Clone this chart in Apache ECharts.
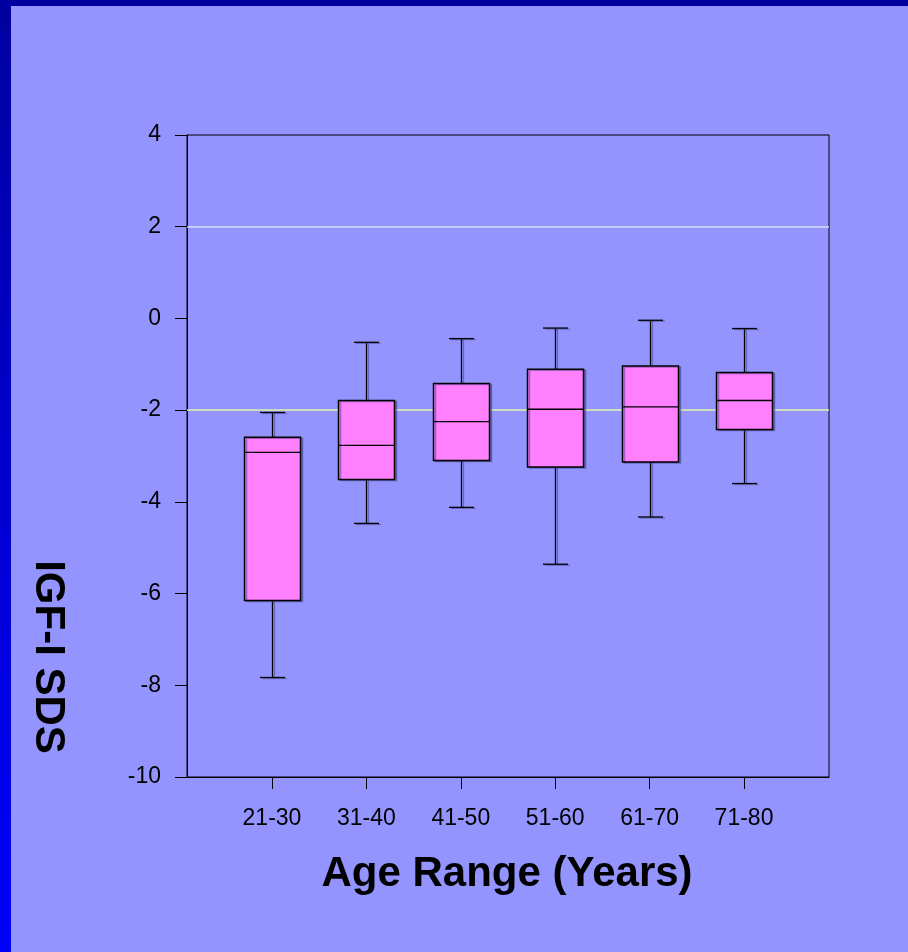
<!DOCTYPE html>
<html>
<head>
<meta charset="utf-8">
<script src="https://cdn.jsdelivr.net/npm/echarts@6/dist/echarts.min.js"></script>
<style>html,body{margin:0;padding:0;background:#9494FF;}#c{width:908px;height:952px;}</style>
</head>
<body>
<div id="c"></div>
<script>
const categories = ['21-30', '31-40', '41-50', '51-60', '61-70', '71-80'];
const whiskerLow = [-7.83, -4.47, -4.12, -5.36, -4.33, -3.60];
const q1 = [-6.15, -3.51, -3.10, -3.24, -3.13, -2.42];
const median = [-2.92, -2.77, -2.25, -1.98, -1.93, -1.79];
const q3 = [-2.59, -1.79, -1.42, -1.11, -1.04, -1.18];
const whiskerHigh = [-2.05, -0.52, -0.44, -0.21, -0.04, -0.22];
const yTicks = [-10, -8, -6, -4, -2, 0, 2, 4];
const refLines = [2, -2];

const FONT = "'Liberation Sans', Arial, sans-serif";
const boxData = categories.map((c, i) => [i + 1, whiskerLow[i], q1[i], median[i], q3[i], whiskerHigh[i]]);

const chart = echarts.init(document.getElementById('c'), null, {renderer: 'canvas'});
chart.setOption({
  backgroundColor: '#9494FF',
  animation: false,
  grid: {left: 187, right: 79, top: 135, bottom: 175, show: true, borderColor: '#000', borderWidth: 1, backgroundColor: 'transparent'},
  xAxis: {
    type: 'value', min: 0.1, max: 6.9,
    splitLine: {show: false},
    axisLine: {show: true, onZero: false, lineStyle: {color: '#000', width: 1}},
    axisTick: {show: true, inside: false, length: 12, lineStyle: {color: '#000'}, customValues: [1, 2, 3, 4, 5, 6]},
    axisLabel: {show: true, color: '#000', fontSize: 23, fontFamily: FONT, margin: 30,
      customValues: [1, 2, 3, 4, 5, 6],
      formatter: v => categories[Math.round(v) - 1] || ''}
  },
  yAxis: {
    type: 'value', min: yTicks[0], max: yTicks[yTicks.length - 1], interval: 2,
    splitLine: {show: false},
    axisLine: {show: true, onZero: false, lineStyle: {color: '#000', width: 1}},
    axisTick: {show: true, inside: false, length: 12, lineStyle: {color: '#000'}},
    axisLabel: {color: '#000', fontSize: 23, fontFamily: FONT, margin: 26, padding: [4, 0, 0, 0]}
  },
  graphic: [
    {type: 'rect', left: 0, top: 0, shape: {width: 908, height: 6}, style: {fill: '#0000A0'}, z: 100},
    {type: 'rect', left: 0, top: 0, shape: {width: 11, height: 952},
      style: {fill: new echarts.graphic.LinearGradient(0, 0, 0, 1, [{offset: 0, color: '#0000A0'}, {offset: 1, color: '#0000FF'}])}, z: 100},
    {type: 'text', x: 48, y: 657, rotation: -Math.PI / 2,
      style: {text: 'IGF-I SDS', fill: '#000', font: 'bold 42px ' + FONT, textAlign: 'center', textVerticalAlign: 'middle'}},
    {type: 'text', x: 507, y: 874,
      style: {text: 'Age Range (Years)', fill: '#000', font: 'bold 42px ' + FONT, textAlign: 'center', textVerticalAlign: 'middle'}}
  ],
  series: [{
    type: 'custom',
    z: 10,
    data: boxData,
    renderItem: function (params, api) {
      const x = api.value(0);
      const pMin = api.coord([x, api.value(1)]);
      const pQ1 = api.coord([x, api.value(2)]);
      const pMed = api.coord([x, api.value(3)]);
      const pQ3 = api.coord([x, api.value(4)]);
      const pMax = api.coord([x, api.value(5)]);
      const cx = Math.round(pMed[0]) + 0.5;
      const bw = 56, cw = 25;
      const shadow = {shadowColor: 'rgba(50,50,120,0.45)', shadowOffsetX: 2, shadowOffsetY: 1, shadowBlur: 0};
      const ls = Object.assign({stroke: '#000', lineWidth: 1.3}, shadow);
      return {
        type: 'group',
        children: [
          {type: 'line', shape: {x1: cx, y1: pMax[1], x2: cx, y2: pQ3[1]}, style: ls},
          {type: 'line', shape: {x1: cx, y1: pQ1[1], x2: cx, y2: pMin[1]}, style: ls},
          {type: 'line', shape: {x1: cx - cw / 2, y1: pMax[1], x2: cx + cw / 2, y2: pMax[1]}, style: ls},
          {type: 'line', shape: {x1: cx - cw / 2, y1: pMin[1], x2: cx + cw / 2, y2: pMin[1]}, style: ls},
          {type: 'rect', shape: {x: cx - bw / 2, y: pQ3[1], width: bw, height: pQ1[1] - pQ3[1]},
            style: Object.assign({fill: '#FF80FF', stroke: '#000', lineWidth: 1.5}, shadow)},
          {type: 'line', shape: {x1: cx - bw / 2, y1: pMed[1], x2: cx + bw / 2, y2: pMed[1]}, style: {stroke: '#000', lineWidth: 1.3}}
        ]
      };
    },
    markLine: {
      silent: true, symbol: 'none', label: {show: false},
      data: [
        {yAxis: refLines[0], lineStyle: {color: '#D4DCF4', width: 1.5, type: 'solid'}},
        {yAxis: refLines[1], lineStyle: {color: '#E2F4A8', width: 1.5, type: 'solid'}}
      ]
    }
  }]
});
</script>
</body>
</html>
